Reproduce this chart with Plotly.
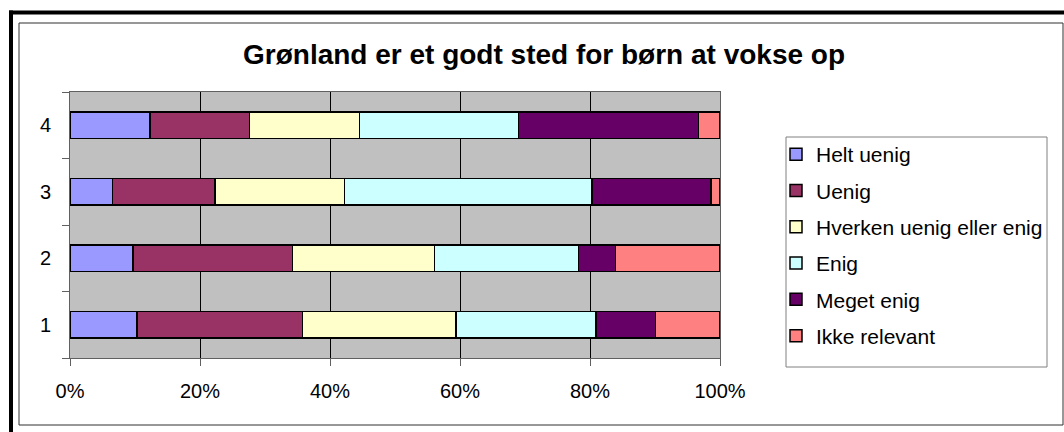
import plotly.graph_objects as go

categories = ["1", "2", "3", "4"]
series_names = ["Helt uenig", "Uenig", "Hverken uenig eller enig", "Enig", "Meget enig", "Ikke relevant"]
helt_uenig = [10.3, 9.7, 6.5, 12.3]
uenig = [25.5, 24.5, 15.8, 15.3]
hverken = [23.6, 21.9, 19.9, 16.9]
enig = [21.5, 22.1, 38.1, 24.5]
meget_enig = [9.2, 5.7, 18.3, 27.7]
ikke_relevant = [9.9, 16.1, 1.4, 3.3]
x_ticks = [0, 20, 40, 60, 80, 100]
x_tick_labels = ["0%", "20%", "40%", "60%", "80%", "100%"]
title_text = "Grønland er et godt sted for børn at vokse op"

series_values = [helt_uenig, uenig, hverken, enig, meget_enig, ikke_relevant]
colors = ["#9999FF", "#993366", "#FFFFCC", "#CCFFFF", "#660066", "#FF8080"]

W, H = 1064, 432
L, R, T, B = 70, 720, 92, 358

def px(x):
    return (x - L) / (R - L)

def py(y):
    return (B - y) / (B - T)

fig = go.Figure()
for name, vals, col in zip(series_names, series_values, colors):
    fig.add_trace(go.Bar(
        y=categories, x=vals, name=name, orientation="h",
        marker=dict(color=col, line=dict(color="black", width=1.5)),
        legendgroup=name,
    ))

font = "Liberation Sans, Arial, sans-serif"
fig.update_layout(
    width=W, height=H,
    margin=dict(l=L, r=W - R, t=T, b=H - B, pad=0),
    barmode="stack", bargap=0.6,
    paper_bgcolor="white", plot_bgcolor="#C0C0C0",
    font=dict(family=font, size=20, color="black"),
    showlegend=True,
    legend=dict(
        x=px(776), y=py(134), xanchor="left", yanchor="top",
        traceorder="grouped", tracegroupgap=6,
        borderwidth=0, bgcolor="rgba(0,0,0,0)",
        font=dict(family=font, size=21, color="black"),
    ),
    annotations=[dict(
        text="<b>" + title_text + "</b>", xref="paper", yref="paper",
        x=px(544), y=py(55), xanchor="center", yanchor="middle",
        showarrow=False, font=dict(family=font, size=28, color="black"),
    )],
    shapes=[
        dict(type="rect", xref="paper", yref="paper",
             x0=px(19), x1=px(1063), y0=py(425), y1=py(23),
             line=dict(color="#303030", width=1), layer="below"),
        dict(type="rect", xref="paper", yref="paper",
             x0=px(786), x1=px(1047), y0=py(367), y1=py(137),
             line=dict(color="#808080", width=1), layer="below"),
        dict(type="line", xref="paper", yref="paper",
             x0=px(9), x1=px(1066), y0=py(12.5), y1=py(12.5),
             line=dict(color="black", width=4)),
        dict(type="line", xref="paper", yref="paper",
             x0=px(11), x1=px(11), y0=py(10.5), y1=py(440),
             line=dict(color="black", width=4)),
    ],
)
fig.update_xaxes(
    range=[0, 100], tickmode="array", tickvals=x_ticks, ticktext=x_tick_labels,
    showgrid=True, gridcolor="black", gridwidth=1,
    showline=True, linecolor="#606060", linewidth=1, mirror=True,
    ticks="outside", ticklen=7, tickcolor="#606060",
    ticklabelstandoff=8, zeroline=False, fixedrange=True,
)
fig.update_yaxes(
    type="category", categoryorder="array", categoryarray=categories,
    tickson="boundaries", ticks="outside", ticklen=7, tickcolor="#606060",
    showgrid=False,
    showline=True, linecolor="#606060", linewidth=1, mirror=True,
    ticklabelstandoff=14, fixedrange=True,
)

fig.write_html("out.html", config={"displayModeBar": False},
               post_script="document.body.style.margin='0';")
